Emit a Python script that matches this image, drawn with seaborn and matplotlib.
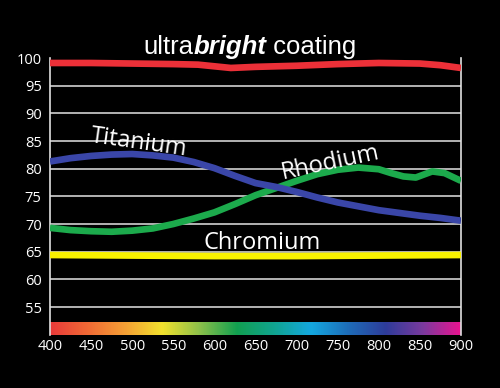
import numpy as np
import pandas as pd
import matplotlib
matplotlib.use("Agg")
import matplotlib.pyplot as plt
from matplotlib.colors import LinearSegmentedColormap
import seaborn as sns

# readings (wavelength nm -> reflectance %)
ti_wl = [400, 425, 450, 475, 500, 525, 550, 575, 600, 625, 650, 675, 700,
         725, 750, 775, 800, 825, 850, 875, 900]
ti_val = [81.3, 81.9, 82.3, 82.55, 82.65, 82.4, 82.0, 81.2, 80.1, 78.7, 77.4,
          76.7, 75.8, 74.8, 73.9, 73.2, 72.5, 72.0, 71.5, 71.1, 70.6]

rh_wl = [400, 425, 450, 475, 500, 525, 550, 575, 600, 625, 650, 675, 700,
         725, 750, 775, 800, 815, 830, 845, 865, 880, 900]
rh_val = [69.3, 68.9, 68.7, 68.6, 68.8, 69.2, 70.0, 71.0, 72.1, 73.6, 75.2,
          76.5, 77.8, 79.0, 79.8, 80.2, 79.9, 79.2, 78.6, 78.4, 79.5, 79.2, 77.8]

ub_wl = [400, 450, 500, 550, 580, 600, 620, 650, 700, 750, 800, 850, 875, 900]
ub_val = [99.1, 99.1, 99.0, 98.9, 98.8, 98.5, 98.2, 98.4, 98.6, 98.9, 99.1,
          99.0, 98.7, 98.2]

cr_wl = [400, 500, 600, 700, 800, 900]
cr_val = [64.4, 64.3, 64.2, 64.2, 64.3, 64.4]

x_ticks = [400, 450, 500, 550, 600, 650, 700, 750, 800, 850, 900]
y_ticks = [55, 60, 65, 70, 75, 80, 85, 90, 95, 100]

spectrum = ["#e83a3a", "#f06a35", "#f5a035", "#f2e22e", "#8cc04a", "#12a050",
            "#10a490", "#14a8e0", "#1e6cb8", "#2e3c9a", "#7a3a9e", "#e81490"]

sns.set_style("dark")
plt.rcParams["font.family"] = ["Open Sans", "DejaVu Sans"]

fig = plt.figure(figsize=(5, 3.88), dpi=100, facecolor="black")
ax = fig.add_axes([0.1, 0.1374, 0.822, 0.7131])
ax.set_facecolor("black")

# grid lines
for v in y_ticks[:-1]:
    ax.axhline(v, color="#d2d2d2", lw=1.2, zorder=1)

# spectrum strip at bottom
cmap = LinearSegmentedColormap.from_list("spec", spectrum)
ax.imshow(np.linspace(0, 1, 256).reshape(1, -1), cmap=cmap, aspect="auto",
          extent=[400, 900, 50, 52.3], zorder=2)

series = [(ub_wl, ub_val, "#ec3038"), (cr_wl, cr_val, "#f8f200"),
          (rh_wl, rh_val, "#1caa4c"), (ti_wl, ti_val, "#3a46a8")]
for wl, val, col in series:
    d = pd.DataFrame({"wl": wl, "val": val})
    sns.lineplot(data=d, x="wl", y="val", ax=ax, color=col, lw=4.8,
                 solid_capstyle="butt", solid_joinstyle="round", zorder=3)

ax.set_xlim(400, 900)
ax.set_ylim(50, 100)
ax.set_xticks(x_ticks)
ax.set_yticks(y_ticks)
ax.set_xlabel("")
ax.set_ylabel("")
ax.grid(False)
ax.tick_params(axis="y", colors="white", length=4, width=1, pad=2,
               labelsize=10.5, labelcolor="white")
ax.tick_params(axis="x", length=0, pad=3, labelsize=10.5, labelcolor="white")
for s in ["top", "bottom"]:
    ax.spines[s].set_visible(False)
for s in ["left", "right"]:
    ax.spines[s].set_visible(True)
    ax.spines[s].set_color("#e0e0e0")
    ax.spines[s].set_linewidth(1.2)

# series labels
lab = dict(color="white", fontsize=17, ha="center", va="center",
           rotation_mode="anchor", zorder=4)
ax.text(508, 84.6, "Titanium", rotation=-8, **lab)
ax.text(741, 81.0, "Rhodium", rotation=12, **lab)
ax.text(658, 66.6, "Chromium", **lab)

# title with mixed styles
fig.canvas.draw()
r = fig.canvas.get_renderer()
parts = [("ultra", "normal", "normal"), ("bright", "bold", "italic"),
         (" coating", "normal", "normal")]
texts = []
for t, w, st in parts:
    texts.append(fig.text(0, 0.86, t, color="white", fontsize=18.5,
                          family="Liberation Sans", weight=w, style=st,
                          va="baseline"))
widths = [tx.get_window_extent(r).width for tx in texts]
x0 = 250 - sum(widths) / 2
for tx, w in zip(texts, widths):
    tx.set_x(x0 / 500)
    x0 += w

fig.savefig("out.png", dpi=100, facecolor="black")
